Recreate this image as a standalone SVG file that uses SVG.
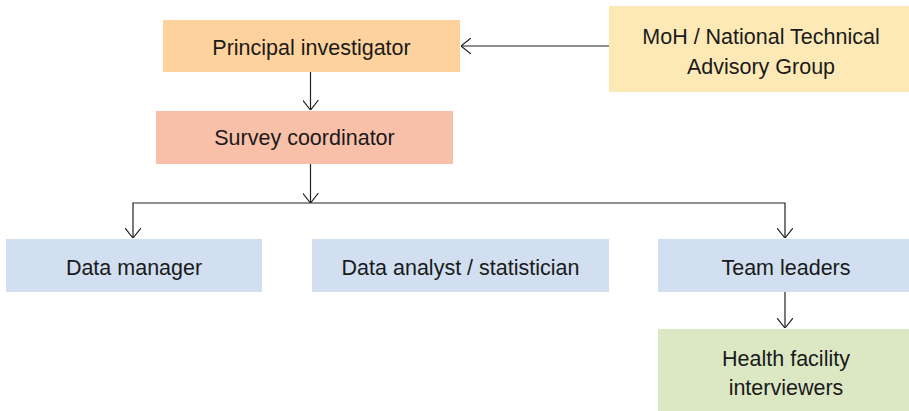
<svg xmlns="http://www.w3.org/2000/svg" width="909" height="411" viewBox="0 0 909 411">
<style>
text{font-family:"Liberation Sans",Arial,sans-serif;font-size:21.5px;fill:#1a1a1a;text-anchor:middle}
.c{fill:none;stroke:#222;stroke-width:1.2}
</style>
<defs>
<marker id="a" viewBox="0 0 10 16" refX="10" refY="8" markerWidth="10" markerHeight="16" markerUnits="userSpaceOnUse" orient="auto">
<path d="M0,0 L10,8 L0,16" fill="none" stroke="#222" stroke-width="1.2"/>
</marker>
</defs>
<rect width="909" height="411" fill="#fff"/>
<g id="connectors">
<path class="c" d="M310.5,72 V110" marker-end="url(#a)"/>
<path class="c" d="M609,46 H461" marker-end="url(#a)"/>
<path class="c" d="M310.5,164 V203" marker-end="url(#a)"/>
<path class="c" d="M310.5,203 H133 V238" marker-end="url(#a)"/>
<path class="c" d="M310.5,203 H785 V238" marker-end="url(#a)"/>
<path class="c" d="M785,292 V328" marker-end="url(#a)"/>
</g>
<g id="pi"><rect x="163" y="20" width="297" height="52" fill="#fdd29c"/><text x="311.5" y="55">Principal investigator</text></g>
<g id="moh"><rect x="609" y="6" width="300" height="86" fill="#fde9b6"/><text x="761" y="44">MoH / National Technical</text><text x="761" y="74">Advisory Group</text></g>
<g id="sc"><rect x="156" y="111" width="297" height="53" fill="#f9c0a9"/><text x="304.5" y="145">Survey coordinator</text></g>
<g id="dm"><rect x="6" y="239" width="256" height="53" fill="#d1dff1"/><text x="134" y="275">Data manager</text></g>
<g id="da"><rect x="312" y="239" width="297" height="53" fill="#d1dff1"/><text x="460.5" y="275">Data analyst / statistician</text></g>
<g id="tl"><rect x="658" y="239" width="251" height="53" fill="#d1dff1"/><text x="786" y="275">Team leaders</text></g>
<g id="hfi"><rect x="658" y="329" width="251" height="82" fill="#dce8c4"/><text x="786" y="366">Health facility</text><text x="786" y="395">interviewers</text></g>
</svg>
